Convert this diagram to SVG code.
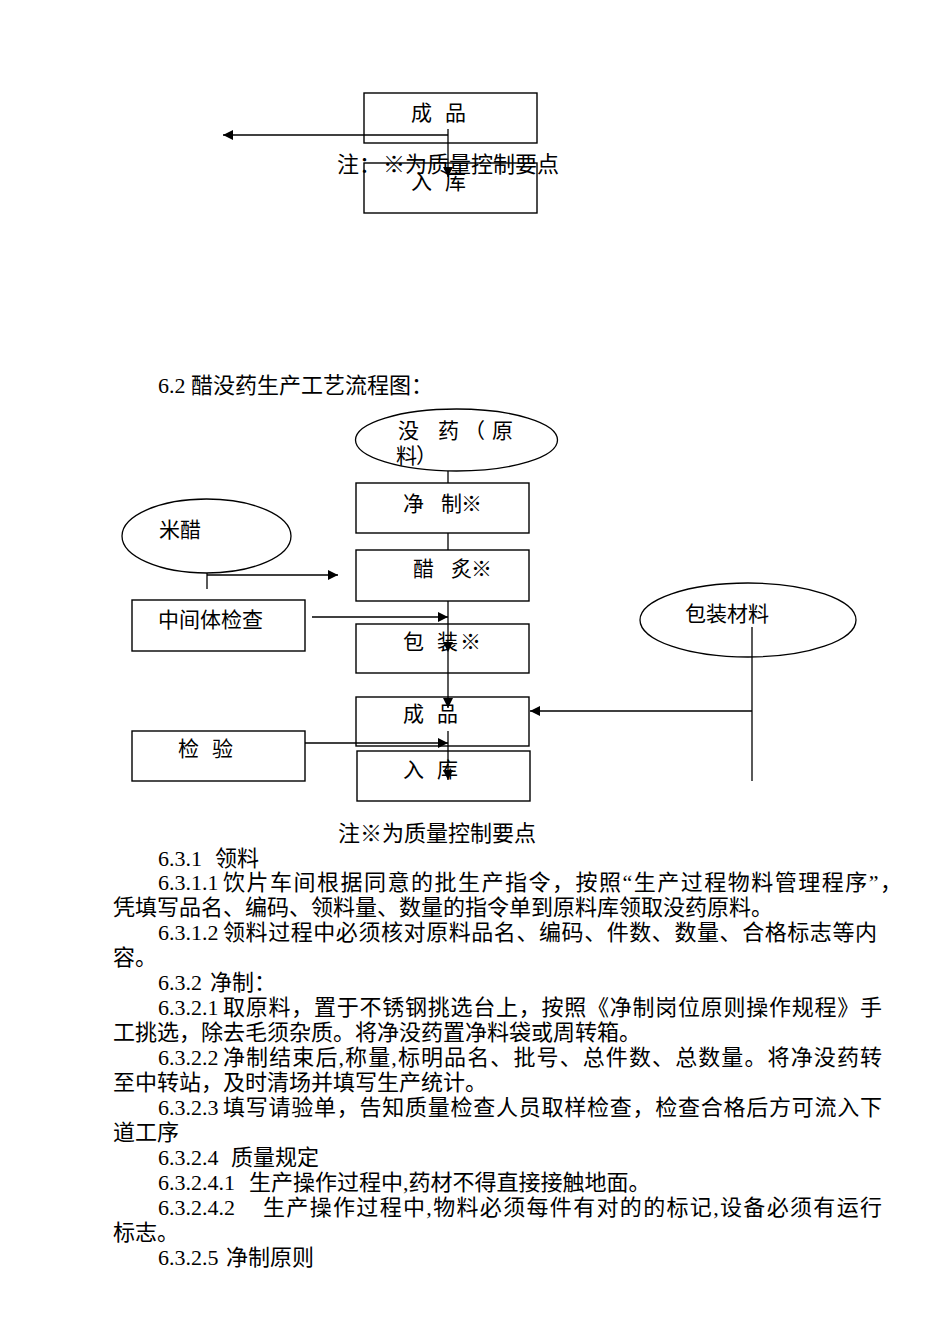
<svg xmlns="http://www.w3.org/2000/svg" width="950" height="1344" viewBox="0 0 950 1344">
<defs>
<style>
.bx{fill:none;stroke:#000;stroke-width:1.4}
.el{fill:none;stroke:#000;stroke-width:1.3}
.ln{fill:none;stroke:#000;stroke-width:1.3}
.ar{fill:none;stroke:#000;stroke-width:1.3;marker-end:url(#ah)}
.lb{font-family:"Liberation Serif","Noto Sans CJK SC",serif;font-size:21px;fill:#000}
.tx{font-family:"Liberation Serif","Noto Sans CJK SC",serif;font-size:22px;fill:#000}
</style>
<marker id="ah" markerUnits="userSpaceOnUse" markerWidth="10" markerHeight="10" refX="10" refY="5" orient="auto">
<path d="M0,0 L10,5 L0,10 Z" fill="#000"/>
</marker>
</defs>
<rect width="950" height="1344" fill="#fff"/>

<!-- top fragment -->
<text class="tx" x="337" y="172">注：</text>
<text class="tx" x="383" y="172">※为质量控制要点</text>
<g id="top-chengpin"><rect class="bx" x="364" y="93" width="173" height="50"/><text class="lb" x="411 445" y="120">成品</text></g>
<g id="top-ruku"><rect class="bx" x="364" y="163" width="173" height="50"/><text class="lb" x="411 445" y="189">入库</text></g>
<g id="top-connectors">
<line class="ar" x1="448" y1="129" x2="448" y2="177"/>
<line class="ar" x1="448" y1="135" x2="223" y2="135"/>
</g>

<text class="tx" x="158" y="393">6.2 醋没药生产工艺流程图：</text>

<!-- flowchart -->
<g id="moyao"><ellipse class="el" cx="456.5" cy="440" rx="101" ry="31"/><text class="lb" x="398 438 464 492" y="438">没药（原</text><text class="lb" x="396 416" y="463">料）</text></g>
<g id="jingzhi"><rect class="bx" x="356" y="483" width="173" height="50"/><text class="lb" x="403 441 461" y="511">净制※</text></g>
<g id="cuzhi"><rect class="bx" x="356" y="550" width="173" height="51"/><text class="lb" x="413 451 471" y="576">醋炙※</text></g>
<g id="mici"><ellipse class="el" cx="206.5" cy="536" rx="84.5" ry="37"/><text class="lb" x="159" y="537">米醋</text></g>
<g id="zhongjianti"><rect class="bx" x="132" y="600" width="173" height="51"/><text class="lb" x="158" y="627">中间体检查</text></g>
<g id="baozhuang"><rect class="bx" x="356" y="624" width="173" height="49"/><text class="lb" x="403 437 460" y="649">包装※</text></g>
<g id="baozhuangcailiao"><ellipse class="el" cx="748" cy="620" rx="108" ry="37"/><text class="lb" x="685" y="621">包装材料</text></g>
<g id="chengpin"><rect class="bx" x="356" y="697" width="173" height="49"/><text class="lb" x="403 437" y="721">成品</text></g>
<g id="jianyan"><rect class="bx" x="132" y="731" width="173" height="50"/><text class="lb" x="178 212" y="756">检验</text></g>
<g id="ruku"><rect class="bx" x="357" y="751" width="173" height="50"/><text class="lb" x="403 437" y="777">入库</text></g>

<g id="connectors">
<line class="ln" x1="448" y1="471" x2="448" y2="483"/>
<line class="ln" x1="448" y1="533" x2="448" y2="550"/>
<line class="ar" x1="448" y1="601" x2="448" y2="652"/>
<line class="ar" x1="448" y1="652" x2="448" y2="708"/>
<line class="ar" x1="448" y1="731" x2="448" y2="780"/>
<line class="ln" x1="207" y1="573" x2="207" y2="589"/>
<line class="ar" x1="207" y1="575" x2="338" y2="575"/>
<line class="ar" x1="312" y1="617" x2="448" y2="617"/>
<line class="ar" x1="305" y1="743" x2="448" y2="743"/>
<line class="ln" x1="752" y1="627" x2="752" y2="781"/>
<line class="ar" x1="752" y1="711" x2="530" y2="711"/>
</g>

<!-- body text -->
<text class="tx" x="338" y="841">注※为质量控制要点</text>
<text class="tx" x="158" y="866">6.3.1</text><text class="tx" x="215" y="866">领料</text>
<text class="tx" x="158" y="890">6.3.1.1</text><text class="tx" x="223" y="890" textLength="679" lengthAdjust="spacing">饮片车间根据同意的批生产指令，按照“生产过程物料管理程序”，</text>
<text class="tx" x="113" y="915" textLength="660" lengthAdjust="spacing">凭填写品名、编码、领料量、数量的指令单到原料库领取没药原料。</text>
<text class="tx" x="158" y="940">6.3.1.2</text><text class="tx" x="223" y="940" textLength="654" lengthAdjust="spacing">领料过程中必须核对原料品名、编码、件数、数量、合格标志等内</text>
<text class="tx" x="113" y="965">容。</text>
<text class="tx" x="158" y="990">6.3.2</text><text class="tx" x="210" y="990">净制：</text>
<text class="tx" x="158" y="1015">6.3.2.1</text><text class="tx" x="223" y="1015" textLength="659" lengthAdjust="spacing">取原料，置于不锈钢挑选台上，按照《净制岗位原则操作规程》手</text>
<text class="tx" x="113" y="1040">工挑选，除去毛须杂质。将净没药置净料袋或周转箱。</text>
<text class="tx" x="158" y="1065">6.3.2.2</text><text class="tx" x="223" y="1065" textLength="659" lengthAdjust="spacing">净制结束后,称量,标明品名、批号、总件数、总数量。将净没药转</text>
<text class="tx" x="113" y="1090">至中转站，及时清场并填写生产统计。</text>
<text class="tx" x="158" y="1115">6.3.2.3</text><text class="tx" x="223" y="1115" textLength="659" lengthAdjust="spacing">填写请验单，告知质量检查人员取样检查，检查合格后方可流入下</text>
<text class="tx" x="113" y="1140">道工序</text>
<text class="tx" x="158" y="1165">6.3.2.4</text><text class="tx" x="231" y="1165">质量规定</text>
<text class="tx" x="158" y="1190">6.3.2.4.1</text><text class="tx" x="249" y="1190">生产操作过程中,药材不得直接接触地面。</text>
<text class="tx" x="158" y="1215">6.3.2.4.2</text><text class="tx" x="263" y="1215" textLength="619" lengthAdjust="spacing">生产操作过程中,物料必须每件有对的的标记,设备必须有运行</text>
<text class="tx" x="113" y="1240">标志。</text>
<text class="tx" x="158" y="1265">6.3.2.5</text><text class="tx" x="226" y="1265">净制原则</text>
</svg>
